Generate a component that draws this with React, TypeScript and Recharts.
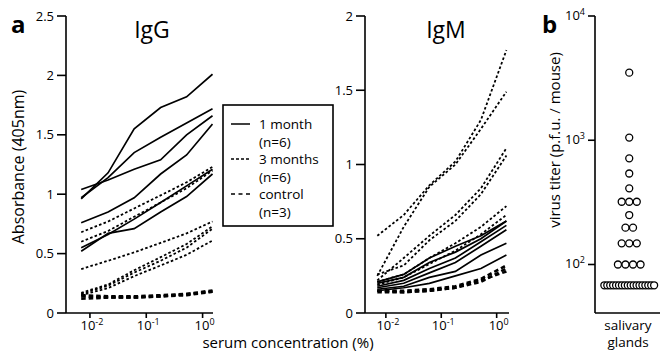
import React from 'react';
import { LineChart, Line, XAxis, YAxis, ScatterChart, Scatter } from 'recharts';

const FONT = '"Open Sans", "Noto Sans", sans-serif';

// serum concentration (%) of the dilution series
const concentrations = [0.007, 0.021, 0.061, 0.18, 0.52, 1.5];
const concTicks = [0.01, 0.1, 1];

const iggTicks = [0, 0.5, 1, 1.5, 2, 2.5];
const igmTicks = [0, 0.5, 1, 1.5, 2];
const titerTicks = [100, 1000, 10000];

// IgG absorbance
const iggOneMonth = [
  [0.96, 1.18, 1.55, 1.73, 1.82, 2.01],
  [0.97, 1.14, 1.35, 1.48, 1.6, 1.72],
  [1.04, 1.12, 1.21, 1.29, 1.5, 1.66],
  [0.76, 0.85, 0.97, 1.17, 1.33, 1.59],
  [0.55, 0.66, 0.79, 0.93, 1.07, 1.21],
  [0.52, 0.67, 0.71, 0.85, 0.98, 1.17],
];
const iggThreeMonths = [
  [0.68, 0.77, 0.88, 0.99, 1.1, 1.23],
  [0.6, 0.69, 0.81, 0.93, 1.05, 1.2],
  [0.37, 0.44, 0.51, 0.59, 0.67, 0.77],
  [0.17, 0.24, 0.36, 0.47, 0.58, 0.73],
  [0.15, 0.21, 0.31, 0.4, 0.49, 0.61],
  [0.16, 0.23, 0.34, 0.44, 0.55, 0.71],
];
const iggControl = [
  [0.14, 0.13, 0.13, 0.14, 0.15, 0.18],
  [0.12, 0.13, 0.13, 0.14, 0.16, 0.18],
  [0.15, 0.14, 0.14, 0.15, 0.16, 0.19],
];

// IgM absorbance
const igmOneMonth = [
  [0.21, 0.26, 0.37, 0.45, 0.52, 0.62],
  [0.2, 0.24, 0.34, 0.41, 0.5, 0.62],
  [0.18, 0.22, 0.3, 0.37, 0.48, 0.59],
  [0.17, 0.2, 0.27, 0.34, 0.45, 0.56],
  [0.16, 0.18, 0.24, 0.28, 0.39, 0.47],
  [0.15, 0.17, 0.2, 0.25, 0.3, 0.39],
];
const igmThreeMonths = [
  [0.52, 0.66, 0.86, 1.02, 1.3, 1.77],
  [0.25, 0.58, 0.85, 1.0, 1.24, 1.49],
  [0.22, 0.37, 0.52, 0.66, 0.84, 1.11],
  [0.26, 0.32, 0.49, 0.62, 0.8, 1.06],
  [0.21, 0.26, 0.37, 0.47, 0.58, 0.72],
  [0.19, 0.24, 0.33, 0.42, 0.53, 0.66],
];
const igmControl = [
  [0.15, 0.15, 0.16, 0.18, 0.23, 0.32],
  [0.14, 0.14, 0.15, 0.17, 0.21, 0.3],
  [0.15, 0.14, 0.15, 0.17, 0.22, 0.28],
];

// virus titer (p.f.u. / mouse) in salivary glands, one per mouse
const salivaryTiters = [
  3500, 1050, 715, 540, 410,
  320, 320, 320,
  250,
  198, 198,
  148, 148, 148,
  100, 100, 100, 100,
  68, 68, 68, 68, 68, 68, 68, 68, 68, 68, 68, 68, 68, 68, 68, 68, 68, 68,
];

const buildRows = (one: number[][], three: number[][], ctrl: number[][]) =>
  concentrations.map((c, i) => {
    const row: Record<string, number> = { conc: c };
    one.forEach((s, k) => (row['s' + k] = s[i]));
    three.forEach((s, k) => (row['t' + k] = s[i]));
    ctrl.forEach((s, k) => (row['c' + k] = s[i]));
    return row;
  });

const iggRows = buildRows(iggOneMonth, iggThreeMonths, iggControl);
const igmRows = buildRows(igmOneMonth, igmThreeMonths, igmControl);

// simple centred beeswarm: equal values spread side by side
const swarmRows = (() => {
  const groups: Record<string, number> = {};
  salivaryTiters.forEach((v) => (groups[v] = (groups[v] || 0) + 1));
  const seen: Record<string, number> = {};
  return salivaryTiters.map((v) => {
    const n = groups[v];
    const i = seen[v] || 0;
    seen[v] = i + 1;
    const gap = n > 6 ? 2.95 : 7.6;
    return { off: (i - (n - 1) / 2) * gap, titer: v };
  });
})();

const axisStyle = { stroke: '#000', strokeWidth: 1.6 };

const PowXTick = (props: any) => {
  const { x, y, payload } = props;
  const e = Math.round(Math.log10(payload.value));
  return (
    <text x={x + 2} y={y + 10} textAnchor="middle" fontSize={13} fontFamily={FONT} fill="#000">
      <tspan>10</tspan>
      <tspan dy={-5} fontSize={9}>{String(e)}</tspan>
    </text>
  );
};

const PowYTick = (props: any) => {
  const { x, y, payload } = props;
  const e = Math.round(Math.log10(payload.value));
  return (
    <text x={x} y={y + 4} textAnchor="end" fontSize={13} fontFamily={FONT} fill="#000">
      <tspan>10</tspan>
      <tspan dy={-5} fontSize={9}>{String(e)}</tspan>
    </text>
  );
};

const NumYTick = (props: any) => {
  const { x, y, payload } = props;
  return (
    <text x={x} y={y + 4.5} textAnchor="end" fontSize={13} fontFamily={FONT} fill="#000">
      {String(payload.value)}
    </text>
  );
};

const seriesLines = (one: number[][], three: number[][], ctrl: number[][]) => [
  ...ctrl.map((_, k) => (
    <Line key={'c' + k} dataKey={'c' + k} type="linear" stroke="#000" strokeWidth={2.6}
      strokeDasharray="4.5 3" dot={false} activeDot={false} isAnimationActive={false} />
  )),
  ...three.map((_, k) => (
    <Line key={'t' + k} dataKey={'t' + k} type="linear" stroke="#000" strokeWidth={1.8}
      strokeDasharray="2.6 2.2" dot={false} activeDot={false} isAnimationActive={false} />
  )),
  ...one.map((_, k) => (
    <Line key={'s' + k} dataKey={'s' + k} type="linear" stroke="#000" strokeWidth={1.7}
      dot={false} activeDot={false} isAnimationActive={false} />
  )),
];

const layer: React.CSSProperties = { position: 'absolute', left: 0, top: 0 };

export default function App() {
  return (
    <div style={{ position: 'absolute', left: 0, top: 0, width: 660, height: 352, background: '#fff', overflow: 'hidden' }}>
      <div style={layer}>
        <LineChart width={660} height={352} data={iggRows} margin={{ top: 16, right: 447, bottom: 0, left: 0 }}>
          <XAxis dataKey="conc" type="number" scale="log" domain={[0.00376, 1.53]} allowDataOverflow
            ticks={concTicks} height={39} tickSize={5} axisLine={axisStyle} tickLine={axisStyle} tick={PowXTick} />
          <YAxis type="number" domain={[0, 2.5]} ticks={iggTicks} allowDataOverflow width={66}
            tickSize={9} tickMargin={3} axisLine={axisStyle} tickLine={axisStyle} tick={NumYTick} />
          {seriesLines(iggOneMonth, iggThreeMonths, iggControl)}
        </LineChart>
      </div>
      <div style={layer}>
        <LineChart width={660} height={352} data={igmRows} margin={{ top: 16, right: 151, bottom: 0, left: 0 }}>
          <XAxis dataKey="conc" type="number" scale="log" domain={[0.0042, 1.67]} allowDataOverflow
            ticks={concTicks} height={39} tickSize={5} axisLine={axisStyle} tickLine={axisStyle} tick={PowXTick} />
          <YAxis type="number" domain={[0, 2]} ticks={igmTicks} allowDataOverflow width={365}
            tickSize={9} tickMargin={3} axisLine={axisStyle} tickLine={axisStyle} tick={NumYTick} />
          {seriesLines(igmOneMonth, igmThreeMonths, igmControl)}
        </LineChart>
      </div>
      <div style={layer}>
        <ScatterChart width={660} height={352} margin={{ top: 16, right: 0, bottom: 0, left: 0 }}>
          <XAxis dataKey="off" type="number" domain={[-34.5, 31]} allowDataOverflow ticks={[-34.5]}
            height={39} tickSize={9} axisLine={axisStyle} tickLine={axisStyle} tick={false} />
          <YAxis dataKey="titer" type="number" scale="log" domain={[40.7, 10000]} allowDataOverflow
            ticks={titerTicks} width={595} tickSize={7} tickMargin={3} axisLine={axisStyle} tickLine={axisStyle} tick={PowYTick} />
          <Scatter data={swarmRows} isAnimationActive={false}
            shape={(p: any) => <circle cx={p.cx} cy={p.cy} r={3.5} fill="#fff" stroke="#000" strokeWidth={1.3} />} />
        </ScatterChart>
      </div>
      <svg width={660} height={352} style={{ ...layer, pointerEvents: 'none' }} fontFamily={FONT}>
        <text x={11} y={33} fontSize={24} fontWeight="bold">a</text>
        <text x={542} y={33} fontSize={24} fontWeight="bold">b</text>
        <text x={152} y={38} fontSize={23} textAnchor="middle">IgG</text>
        <text x={446} y={38} fontSize={23} textAnchor="middle">IgM</text>
        <text transform="translate(24,167) rotate(-90)" fontSize={16} textAnchor="middle">Absorbance (405nm)</text>
        <text transform="translate(560,140) rotate(-90)" fontSize={15} textAnchor="middle">virus titer (p.f.u. / mouse)</text>
        <text x={288} y={348} fontSize={15} textAnchor="middle">serum concentration (%)</text>
        <text x={628} y={330} fontSize={13.5} textAnchor="middle">salivary</text>
        <text x={628} y={347} fontSize={13.5} textAnchor="middle">glands</text>
        <rect x={223} y={105} width={110} height={121} fill="#fff" stroke="#000" strokeWidth={1.6} />
        <line x1={231} x2={250} y1={124} y2={124} stroke="#000" strokeWidth={1.5} />
        <line x1={231} x2={250} y1={159} y2={159} stroke="#000" strokeWidth={1.5} strokeDasharray="3 2" />
        <line x1={231} x2={250} y1={194} y2={194} stroke="#000" strokeWidth={1.5} strokeDasharray="4 3.5" />
        <text x={259} y={129} fontSize={13.5}>1 month</text>
        <text x={259} y={146.5} fontSize={13.5}>(n=6)</text>
        <text x={259} y={164} fontSize={13.5}>3 months</text>
        <text x={259} y={181.5} fontSize={13.5}>(n=6)</text>
        <text x={259} y={199} fontSize={13.5}>control</text>
        <text x={259} y={216.5} fontSize={13.5}>(n=3)</text>
      </svg>
    </div>
  );
}
